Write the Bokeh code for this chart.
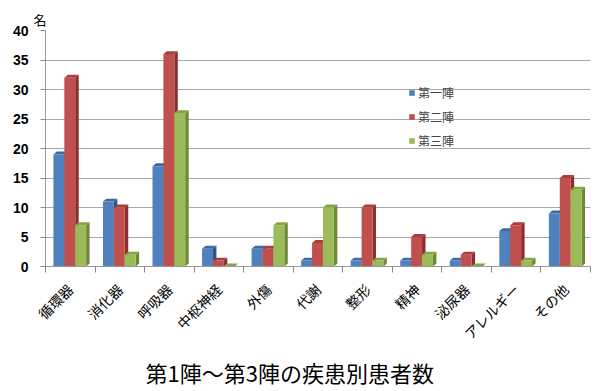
from bokeh.plotting import figure
from bokeh.models import (ColumnDataSource, FixedTicker, Legend, LegendItem, Title, Range1d)
from bokeh.embed import file_html
from bokeh.resources import INLINE
import math

categories = ["循環器", "消化器", "呼吸器", "中枢神経", "外傷", "代謝", "整形", "精神", "泌尿器", "アレルギー", "その他"]
series_names = ["第一陣", "第二陣", "第三陣"]
wave1 = [19, 11, 17, 3, 3, 1, 1, 1, 1, 6, 9]
wave2 = [32, 10, 36, 1, 3, 4, 10, 5, 2, 7, 15]
wave3 = [7, 2, 26, 0, 7, 10, 1, 2, 0, 1, 13]
y_ticks = [0, 5, 10, 15, 20, 25, 30, 35, 40]
title_text = "第1陣～第3陣の疾患別患者数"
unit_text = "名"

front_colors = ["#4F81BD", "#C0504D", "#9BBB59"]
side_colors = ["#2F5584", "#8A2F2D", "#6B8A36"]
top_colors = ["#3D6AA3", "#A83E3B", "#84A546"]
offsets = [-0.23, -0.01, 0.21]
bar_w = 0.22
dx = 0.07
dy = 0.5

jp_font = "Noto Sans CJK JP"

p = figure(width=595, height=387, output_backend="svg", toolbar_location=None,
           x_range=Range1d(0, len(categories)), y_range=Range1d(0, 40),
           min_border_left=45, min_border_right=5, min_border_top=30, min_border_bottom=108)
p.outline_line_color = None
p.background_fill_color = "white"

# grid
p.xgrid.grid_line_color = None
p.ygrid.grid_line_color = "#A6A6A6"
p.ygrid.grid_line_width = 1.2

# axes
centers = [i + 0.5 for i in range(len(categories))]
bounds = [float(i) for i in range(len(categories) + 1)]
p.xaxis.ticker = FixedTicker(ticks=centers, minor_ticks=bounds)
p.xaxis.major_label_overrides = {c: name for c, name in zip(centers, categories)}
p.xaxis.major_tick_line_color = None
p.xaxis.minor_tick_line_color = "#888888"
p.xaxis.minor_tick_out = 6
p.xaxis.minor_tick_in = 0
p.xaxis.axis_line_color = "#999999"
p.xaxis.major_label_orientation = math.pi / 4
p.xaxis.major_label_text_font = jp_font
p.xaxis.major_label_text_font_size = "14px"
p.xaxis.major_label_text_color = "black"
p.xaxis.major_label_standoff = 14

p.yaxis.ticker = FixedTicker(ticks=y_ticks)
p.yaxis.minor_tick_line_color = None
p.yaxis.major_tick_line_color = "#888888"
p.yaxis.major_tick_out = 5
p.yaxis.major_tick_in = 0
p.yaxis.axis_line_color = "#999999"
p.yaxis.major_label_text_font = "Liberation Sans"
p.yaxis.major_label_text_font_style = "bold"
p.yaxis.major_label_text_font_size = "14px"
p.yaxis.major_label_text_color = "black"
p.yaxis.major_label_standoff = 12

all_series = [wave1, wave2, wave3]
items = []
for k, vals in enumerate(all_series):
    x0 = [c + offsets[k] - bar_w / 2 for c in centers]
    x1 = [c + offsets[k] + bar_w / 2 for c in centers]
    side_xs = [[b, b + dx, b + dx, b] for b in x1]
    side_ys = [[0, dy, v + dy, v] for v in vals]
    top_xs = [[a, b, b + dx, a + dx] for a, b in zip(x0, x1)]
    top_ys = [[v, v, v + dy, v + dy] for v in vals]
    p.patches(side_xs, side_ys, fill_color=side_colors[k], line_color=None)
    p.patches(top_xs, top_ys, fill_color=top_colors[k], line_color=None)
    src = ColumnDataSource(dict(x=[c + offsets[k] for c in centers], top=vals))
    r = p.vbar(x="x", top="top", bottom=0, width=bar_w, source=src,
               fill_color=front_colors[k], line_color=None)
    items.append(LegendItem(label=series_names[k], renderers=[r]))

legend = Legend(items=items, location=(363, 116), background_fill_alpha=0,
                border_line_color=None, glyph_width=7, glyph_height=7,
                label_text_font=jp_font, label_text_font_size="12px",
                label_height=20, spacing=4, padding=2, margin=0, label_standoff=3)
p.add_layout(legend)

p.add_layout(Title(text=unit_text, align="left", offset=-12, standoff=4,
                   text_font=jp_font, text_font_size="13px", text_font_style="normal",
                   text_color="black"), "above")
p.add_layout(Title(text=title_text, align="left", offset=100, standoff=0,
                   text_font=jp_font, text_font_size="22px", text_font_style="normal",
                   text_color="black"), "below")

open("out.html", "w").write(file_html(p, INLINE))
